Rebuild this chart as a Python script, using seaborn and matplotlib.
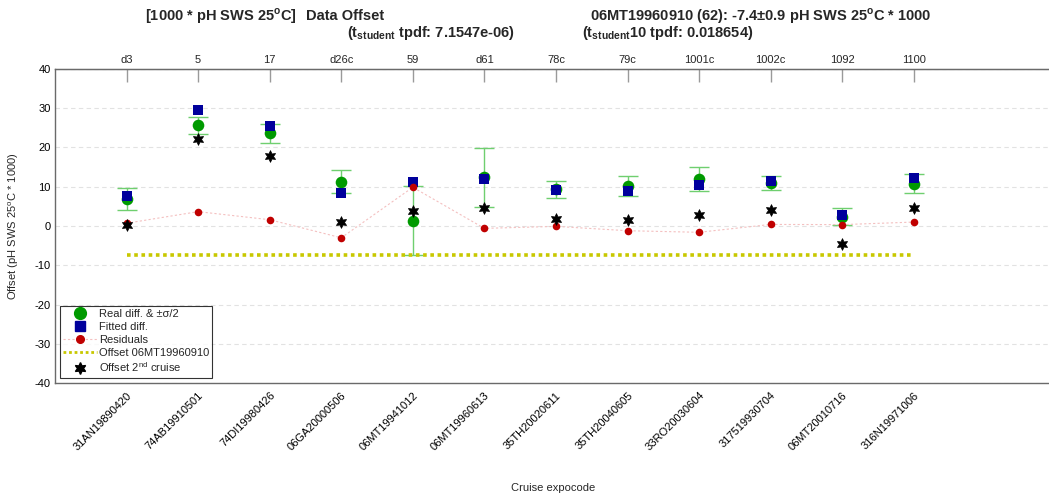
import numpy as np
import pandas as pd
import matplotlib
matplotlib.use("Agg")
import matplotlib.pyplot as plt
from matplotlib.lines import Line2D
import seaborn as sns

# ---------------- data ----------------
cruises = ["31AN19890420", "74AB19910501", "74DI19980426", "06GA20000506",
           "06MT19941012", "06MT19960613", "35TH20020611", "35TH20040605",
           "33RO20030604", "317519930704", "06MT20010716", "316N19971006"]
top_labels = ["d3", "5", "17", "d26c", "59", "d61", "78c", "79c",
              "1001c", "1002c", "1092", "1100"]
real_diff = [6.85, 25.6, 23.6, 11.3, 1.35, 12.4, 9.3, 10.2, 11.9, 10.9, 2.4, 10.8]
half_sigma = [2.75, 2.2, 2.4, 2.95, 8.7, 7.45, 2.1, 2.5, 3.1, 1.8, 2.1, 2.35]
fitted_diff = [7.6, 29.5, 25.4, 8.3, 11.3, 12.0, 9.2, 9.0, 10.4, 11.5, 2.8, 12.1]
residuals = [0.7, 3.65, 1.6, -3.0, 9.85, -0.6, -0.1, -1.2, -1.6, 0.4, 0.35, 1.0]
offset_2nd = [0.25, 22.0, 17.9, 0.9, 3.9, 4.5, 1.9, 1.5, 2.9, 4.1, -4.7, 4.65]
offset_value = -7.4
y_ticks = [-40, -30, -20, -10, 0, 10, 20, 30, 40]

# ---------------- style ----------------
sns.set_style("white")
plt.rcParams["font.family"] = ["Liberation Sans", "DejaVu Sans"]
plt.rcParams["font.size"] = 8
plt.rcParams["axes.unicode_minus"] = False

pos = np.arange(1, len(cruises) + 1)
df = pd.DataFrame({"pos": pos, "cruise": cruises, "real": real_diff,
                   "err": half_sigma, "fitted": fitted_diff,
                   "resid": residuals, "second": offset_2nd})
df_off = pd.DataFrame({"pos": [pos[0], pos[-1]],
                       "off": [offset_value, offset_value]})

W, H = 1049, 496
fig = plt.figure(figsize=(W / 100, H / 100), dpi=100)
ax = fig.add_axes([55 / W, (H - 383.3) / H, 1 - 55 / W, (383.3 - 68.7) / H])

GREEN = "#009a00"
BLUE = "#00009c"
RED = "#c00000"
ERRC = "#6fcf6f"
YEL = "#c8c800"

ax.errorbar(df["pos"], df["real"], yerr=df["err"], fmt="none",
            ecolor=ERRC, elinewidth=1.0, capsize=7, capthick=1.0, zorder=2)
sns.lineplot(data=df_off, x="pos", y="off", ax=ax, color=YEL,
             linestyle=(0, (1, 1)), linewidth=2.6, zorder=3)
sns.scatterplot(data=df, x="pos", y="real", ax=ax, color=GREEN, marker="o",
                s=70, edgecolor=GREEN, linewidth=0, zorder=4)
sns.scatterplot(data=df, x="pos", y="fitted", ax=ax, color=BLUE, marker="s",
                s=48, edgecolor=BLUE, linewidth=0, zorder=5)
sns.lineplot(data=df, x="pos", y="resid", ax=ax, color="#f4c0c0",
             linestyle=(0, (2, 2)), linewidth=0.8, zorder=6)
sns.scatterplot(data=df, x="pos", y="resid", ax=ax, color=RED, marker="o",
                s=30, edgecolor=RED, linewidth=0, zorder=7)
sns.scatterplot(data=df, x="pos", y="second", ax=ax, color="black",
                marker=(6, 1, 0), s=70, edgecolor="black", linewidth=0.6, zorder=8)

ax.set_xlim(0, (W - 55.2) / 71.55)
ax.set_ylim(-40, 40)
ax.set_yticks(y_ticks)
ax.set_xticks(pos)
ax.set_xticklabels(cruises, rotation=45, ha="right", va="top",
                   rotation_mode="anchor")
ax.set_xlabel("")
ax.set_ylabel("")
ax.yaxis.grid(True, linestyle=(0, (4, 3)), color="#e2e2e2", linewidth=0.8)
ax.xaxis.grid(False)
ax.set_axisbelow(True)

for s in ["left", "top", "bottom"]:
    ax.spines[s].set_color("#6a6a6a")
    ax.spines[s].set_linewidth(1.0)
ax.spines["right"].set_visible(False)
ax.tick_params(axis="both", direction="in", length=9, width=1.0,
               color="#9a9a9a", labelsize=8, labelcolor="black")
ax.tick_params(axis="x", pad=5)
ax.tick_params(axis="y", pad=3)

sec = ax.secondary_xaxis("top")
sec.set_xticks(pos)
sec.set_xticklabels(top_labels)
sec.tick_params(direction="in", length=9, width=1.0, color="#9a9a9a",
                labelsize=8, pad=3)
sec.spines["top"].set_color("#6a6a6a")

handles = [
    Line2D([], [], linestyle="none", marker="o", color=GREEN, markersize=8.5),
    Line2D([], [], linestyle="none", marker="s", color=BLUE, markersize=7),
    Line2D([], [], linestyle=(0, (2, 2)), linewidth=0.8, color="#f4c0c0",
           marker="o", markerfacecolor=RED, markeredgecolor=RED, markersize=5.5),
    Line2D([], [], linestyle=(0, (1, 1)), linewidth=2.0, color=YEL),
    Line2D([], [], linestyle="none", marker=(6, 1, 0), color="black", markersize=8.5),
]
labels = ["Real diff. & \u00b1\u03c3/2", "Fitted diff.", "Residuals",
          "Offset 06MT19960910", r"Offset 2$^{\mathdefault{nd}}$ cruise"]
leg = ax.legend(handles, labels, loc="upper left",
                bbox_to_anchor=(5 / 994, (383.3 - 306) / 314.6),
                borderaxespad=0, fontsize=8, frameon=True, fancybox=False,
                edgecolor="black", handlelength=3.0, handletextpad=0.2,
                labelspacing=0.25, borderpad=0.3)
leg.get_frame().set_linewidth(0.8)

fig.text(14 / W, (H - 226) / H, r"Offset (pH SWS 25$^{\mathdefault{o}}$C * 1000)",
         rotation=90, ha="center", va="center", fontsize=8)
fig.text(553 / W, (H - 488) / H, "Cruise expocode", ha="center", va="center",
         fontsize=8)

tkw = dict(fontsize=10.5, fontweight="bold", va="center")
fig.text(297 / W, 1 - 16 / H, r"[1000 * pH SWS 25$^{\mathdefault{o}}$C]",
         ha="right", **tkw)
fig.text(306 / W, 1 - 16 / H, "Data Offset", ha="left", **tkw)
fig.text(347 / W, 1 - 33 / H,
         r"(t$_{\mathdefault{student}}$ tpdf: 7.1547e-06)", ha="left", **tkw)
fig.text(590 / W, 1 - 16 / H,
         "06MT19960910 (62): -7.4\u00b10.9 pH SWS 25$^{\\mathdefault{o}}$C * 1000",
         ha="left", **tkw)
fig.text(582 / W, 1 - 33 / H,
         r"(t$_{\mathdefault{student}}$10 tpdf: 0.018654)", ha="left", **tkw)

fig.savefig("out.png", dpi=100)
